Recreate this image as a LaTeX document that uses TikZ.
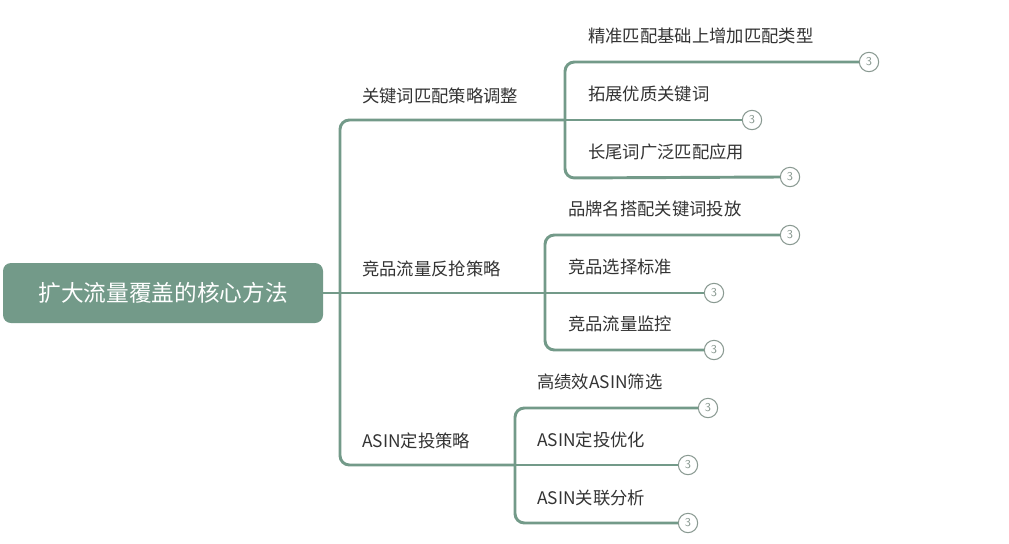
\documentclass[tikz,border=0pt]{standalone}
\usepackage{fontspec}
\newfontfamily\cjk{Noto Sans CJK SC}
\definecolor{br}{HTML}{739A89}
\definecolor{tx}{HTML}{333333}
\definecolor{cg}{HTML}{8A9A92}
\begin{document}
\begin{tikzpicture}[x=0.75pt,y=-0.75pt,
 ln/.style={draw=br,line width=2.2pt,rounded corners=7pt},
 lab/.style={anchor=south west,font=\cjk\fontsize{13}{15}\selectfont,text=tx,inner sep=3pt},
 cnt/.style={circle,draw=cg,line width=0.8pt,minimum size=14.5pt,inner sep=0pt,fill=white,font=\sffamily\fontsize{9}{10}\selectfont,text=cg}]
\useasboundingbox (0,0) rectangle (1009,543);
\node[fill=br,rounded corners=6pt,minimum width=240pt,minimum height=45pt,text=white,font=\cjk\fontsize{17}{20}\selectfont] (root) at (163,293) {扩大流量覆盖的核心方法};
% level 1
\draw[ln] (root.east) -- (340,293);
\draw[ln] (565,120) -- (340,120) -- (340,465) -- (515,465);
\draw[ln] (340,293) -- (545,293);
\node[lab] (a) at (358,108) {关键词匹配策略调整};
\node[lab] (b) at (358,281) {竞品流量反抢策略};
\node[lab] (c) at (358,453) {ASIN定投策略};
% group 1
\node[cnt] (a1) at (869,62) {3};
\node[cnt] (a2) at (752,120) {3};
\node[cnt] (a3) at (790,177) {3};
\draw[ln] (a1.west) -- (565,62) -- (565,178) -- (a3.west);
\draw[ln] (565,120) -- (a2.west);
\node[lab] at (584,48) {精准匹配基础上增加匹配类型};
\node[lab] at (584,106) {拓展优质关键词};
\node[lab] at (584,164) {长尾词广泛匹配应用};
% group 2
\node[cnt] (b1) at (790,235) {3};
\node[cnt] (b2) at (714,293) {3};
\node[cnt] (b3) at (714,350) {3};
\draw[ln] (b1.west) -- (545,235) -- (545,350) -- (b3.west);
\draw[ln] (545,293) -- (b2.west);
\node[lab] at (564,221) {品牌名搭配关键词投放};
\node[lab] at (564,279) {竞品选择标准};
\node[lab] at (564,336) {竞品流量监控};
% group 3
\node[cnt] (c1) at (708,408) {3};
\node[cnt] (c2) at (688,465) {3};
\node[cnt] (c3) at (688,523) {3};
\draw[ln] (c1.west) -- (515,408) -- (515,523) -- (c3.west);
\draw[ln] (515,465) -- (c2.west);
\node[lab] at (533,394) {高绩效ASIN筛选};
\node[lab] at (533,452) {ASIN定投优化};
\node[lab] at (533,510) {ASIN关联分析};
\end{tikzpicture}
\end{document}
